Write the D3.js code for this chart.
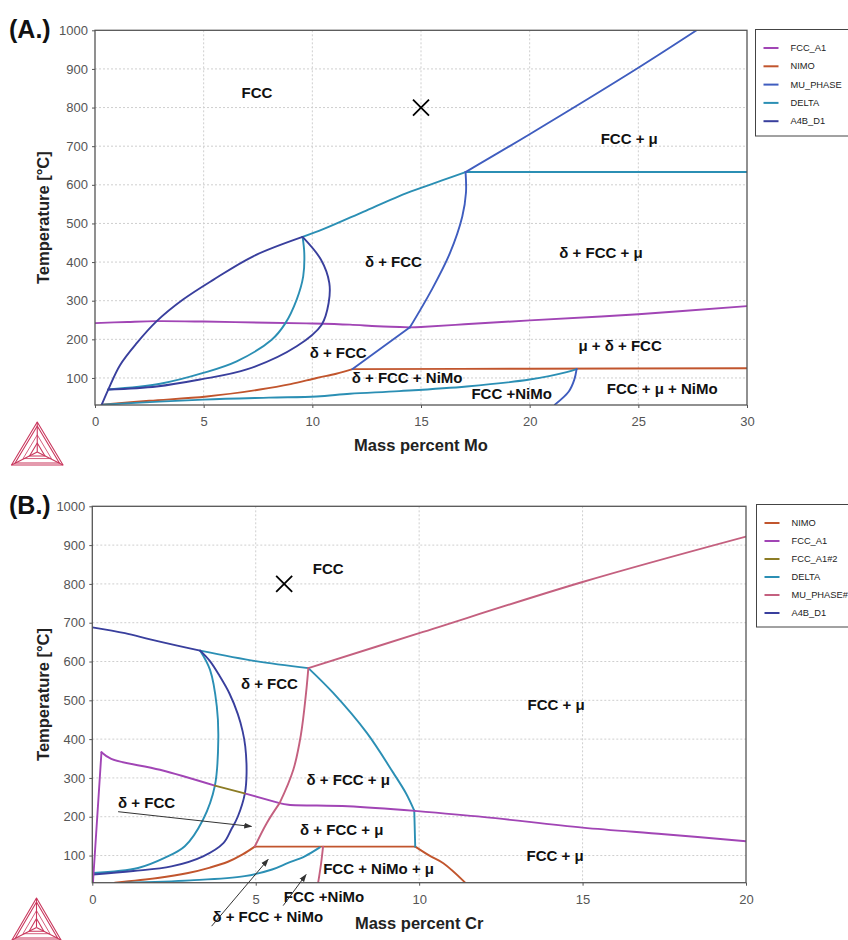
<!DOCTYPE html>
<html>
<head>
<meta charset="utf-8">
<script src="https://cdn.jsdelivr.net/npm/d3@7"></script>
<style>
  body { margin: 0; background: #fff; }
  svg { display: block; font-family: "Liberation Sans", Arial, sans-serif; }
</style>
</head>
<body>
<svg id="chart" width="848" height="940"></svg>
<script>
// ---------- shared axis values ----------
const tempTicks = [100, 200, 300, 400, 500, 600, 700, 800, 900, 1000];
const tempRange = [30, 1000];
const moTicks = [0, 5, 10, 15, 20, 25, 30];
const crTicks = [0, 5, 10, 15, 20];

// ---------- (A.) Mo section: phase boundaries as [mass % Mo, °C] ----------
const moFccA1 = [
  [[0, 242], [1.5, 245], [2.84, 247], [5, 246], [8, 243], [10, 241], [11.73, 238], [13, 234], [14.5, 231]],
  [[14.5, 231], [15, 232], [17, 239], [20, 249], [25, 265], [30, 286]]
];
const moNiMo = [
  [[0.31, 31], [2.5, 41], [5.14, 52], [7.59, 70], [9, 84], [10.2, 100], [11.1, 111], [11.85, 123]],
  [[11.85, 123], [20, 124], [30, 125]]
];
const moMuPhase = [
  [[17.05, 633], [20, 731], [25, 903], [27.68, 1000]],
  [[17.05, 633], [17.07, 580], [16.9, 518], [16.33, 423], [15.49, 328], [14.49, 231]],
  [[14.49, 231], [11.85, 123]],
  [[22.16, 123], [22.05, 95], [21.8, 65], [21.16, 31]]
];
const moDelta = [
  [[9.55, 465], [10.5, 485], [12.34, 530], [14, 571], [15, 592], [16, 612], [17.05, 633]],
  [[17.05, 633], [30, 633]],
  [[9.55, 465], [9.63, 423], [9.58, 363], [9.28, 303], [8.74, 240], [8.13, 199], [6.52, 143],
   [4.98, 113], [3, 85], [0.61, 70]],
  [[0.31, 31], [4.98, 44], [8, 49], [10.2, 52], [11.73, 59], [14, 66], [17.1, 78], [20, 96],
   [21.7, 115], [22.16, 123]]
];
const moA4bD1 = [
  [[0.31, 31], [0.61, 70], [1.15, 133], [1.92, 190], [2.84, 247], [4.05, 303], [5.44, 354],
   [7.28, 415], [9.55, 465]],
  [[9.55, 465], [10.4, 406], [10.78, 346], [10.75, 294], [10.43, 238], [9.28, 182], [6.98, 122],
   [4.83, 96], [2.84, 78], [0.61, 70]]
];
const moLegend = ["FCC_A1", "NIMO", "MU_PHASE", "DELTA", "A4B_D1"];
const moRegionText = ["FCC", "FCC + μ", "δ + FCC", "δ + FCC + μ", "δ + FCC", "μ + δ + FCC",
  "δ + FCC + NiMo", "FCC +NiMo", "FCC + μ + NiMo"];
const moRegionAt = [[7.45, 839], [24.58, 721], [13.73, 402], [23.28, 426], [11.19, 165],
  [24.16, 184], [14.36, 100], [19.17, 61], [26.1, 72]];
const moAlloy = [15, 800];

// ---------- (B.) Cr section: phase boundaries as [mass % Cr, °C] ----------
const crNiMo = [
  [[0.69, 30], [2, 42], [2.93, 55], [3.6, 69], [4.15, 84], [4.6, 103], [4.97, 123]],
  [[4.97, 123], [9.88, 123]],
  [[9.88, 123], [10.33, 99], [10.74, 80], [11.4, 31]]
];
const crFccA1 = [
  [[0.02, 30], [0.28, 366]],
  [[0.28, 366], [0.58, 349], [2.07, 321], [3.75, 280]],
  [[4.66, 260], [5.73, 235]],
  [[5.73, 235], [6, 231], [7.82, 227], [9.87, 215]],
  [[9.87, 215], [12, 199], [15, 172], [17.5, 155], [20, 137]]
];
const crFccA1b = [
  [[3.75, 280], [4.66, 260]]
];
const crDelta = [
  [[3.3, 628], [5, 601], [6.61, 583]],
  [[6.61, 583], [7.37, 519], [8.4, 416], [9.21, 313], [9.6, 260], [9.85, 216]],
  [[9.85, 216], [9.88, 123]],
  [[3.3, 628], [3.6, 579], [3.81, 484], [3.855, 400], [3.75, 280], [3.39, 193], [2.83, 124],
   [2.21, 94], [1.4, 68], [0.02, 55]],
  [[1.0, 30], [3, 36], [4.66, 47], [5.5, 64], [5.99, 81], [6.5, 98], [6.96, 121]]
];
const crMuPhase = [
  [[6.61, 583], [10, 673], [15, 805], [20, 922]],
  [[6.61, 583], [6.54, 519], [6.38, 410], [6.15, 321], [5.73, 235]],
  [[5.73, 235], [5.34, 184], [4.97, 123]],
  [[7.06, 123], [7.0, 80], [6.91, 30]]
];
const crA4bD1 = [
  [[0, 688], [1, 673], [1.77, 657], [2.6, 641], [3.3, 628]],
  [[3.3, 628], [3.6, 601], [3.9, 562], [4.2, 517], [4.45, 465], [4.6, 420], [4.68, 381],
   [4.72, 313], [4.67, 261], [4.45, 200], [4.25, 167], [4.01, 132], [3.39, 98], [2.42, 72],
   [1.25, 60], [0.02, 51]]
];
const crLegend = ["NIMO", "FCC_A1", "FCC_A1#2", "DELTA", "MU_PHASE#", "A4B_D1"];
const crRegionText = ["FCC", "δ + FCC", "δ + FCC + μ", "δ + FCC", "δ + FCC + μ",
  "FCC + NiMo + μ", "FCC + μ", "FCC + μ", "FCC +NiMo", "δ + FCC + NiMo"];
const crRegionAt = [[7.22, 840], [5.42, 544], [7.83, 295], [1.66, 236], [7.63, 167],
  [8.76, 66], [14.19, 489], [14.16, 100], [7.09, -6], [5.37, -58]];
// pointers from a label to the field it names: [from, to]
const crPointers = [
  [[0.79, 213], [4.87, 175]],
  [[3.65, -82], [5.38, 90]],
  [[5.84, -29], [6.54, 51]]
];
const crAlloy = [5.87, 800];

// ---------- styling ----------
const phaseColor = {
  "FCC_A1": "#a145b5",
  "FCC_A1#2": "#8c7c25",
  "NIMO": "#c1552d",
  "MU_PHASE": "#3f5dbf",
  "MU_PHASE#": "#c4607f",
  "DELTA": "#2b8fb4",
  "A4B_D1": "#393f9d"
};

const svg = d3.select("#chart");

svg.append("defs").append("marker")
  .attr("id", "arrowHead")
  .attr("viewBox", "0 0 10 10")
  .attr("refX", 9).attr("refY", 5)
  .attr("markerWidth", 8).attr("markerHeight", 8)
  .attr("orient", "auto")
  .append("path").attr("d", "M0,1.5 L10,5 L0,8.5 Z").attr("fill", "#333");

function drawLogo(g, left, right, top, bottom) {
  const cx = (left + right) / 2;
  const col = "#c9375d";
  const A = [cx, top], B = [left, bottom], C = [right, bottom];
  const P = [cx, bottom - (bottom - top) * 0.3];
  const lg = g.append("g").attr("fill", "none").attr("stroke", col).attr("stroke-width", 1.1)
    .attr("stroke-linejoin", "round");
  const tri = (pts) => "M" + pts.map(p => p.join(",")).join("L") + "Z";
  lg.append("path").attr("d", tri([A, B, C]));
  const shrink = (p, q, k) => [q[0] + (p[0] - q[0]) * k, q[1] + (p[1] - q[1]) * k];
  const cen = [cx, (top + 2 * bottom) / 3];
  lg.append("path").attr("d", tri([shrink(A, cen, 0.86), shrink(B, cen, 0.86), shrink(C, cen, 0.86)]));
  [A, B, C].forEach(v => lg.append("line")
    .attr("x1", v[0]).attr("y1", v[1]).attr("x2", P[0]).attr("y2", P[1]));
  lg.append("path").attr("d", tri([shrink(A, P, 0.3), shrink(B, P, 0.3), shrink(C, P, 0.3)]));
  lg.append("path").attr("d", tri([shrink(A, cen, 0.55), shrink(B, cen, 0.55), shrink(C, cen, 0.55)]))
    .attr("stroke-width", 0.8);
}

function drawPanel(p) {
  const g = svg.append("g");
  const b = p.box;
  const x = d3.scaleLinear().domain([p.xTicks[0], p.xTicks[p.xTicks.length - 1]]).range([b.left, b.right]);
  const y = d3.scaleLinear().domain(tempRange).range([b.bottom, b.top]);

  // dotted grid
  const grid = g.append("g").attr("stroke", "#cfcfcf").attr("stroke-width", 1).attr("stroke-dasharray", "2,2");
  grid.selectAll(".gx").data(p.xTicks.slice(1, -1)).join("line")
    .attr("x1", d => x(d)).attr("x2", d => x(d)).attr("y1", b.top).attr("y2", b.bottom);
  grid.selectAll(".gy").data(tempTicks.filter(t => t < tempRange[1])).join("line")
    .attr("y1", d => y(d)).attr("y2", d => y(d)).attr("x1", b.left).attr("x2", b.right);

  // phase boundaries
  const clipId = "clip" + p.tag.replace(/\W/g, "");
  svg.select("defs").append("clipPath").attr("id", clipId)
    .append("rect").attr("x", b.left).attr("y", b.top).attr("width", b.right - b.left).attr("height", b.bottom - b.top);
  const line = d3.line().x(d => x(d[0])).y(d => y(d[1])).curve(d3.curveCatmullRom.alpha(0.5));
  const curves = g.append("g").attr("clip-path", `url(#${clipId})`);
  p.curves.forEach(([name, segs]) => {
    segs.forEach(s => curves.append("path")
      .attr("d", line(s))
      .attr("fill", "none")
      .attr("stroke", phaseColor[name])
      .attr("stroke-width", 1.9)
      .attr("stroke-linejoin", "round")
      .attr("stroke-linecap", "round"));
  });

  // frame
  g.append("rect").attr("x", b.left).attr("y", b.top)
    .attr("width", b.right - b.left).attr("height", b.bottom - b.top)
    .attr("fill", "none").attr("stroke", "#555").attr("stroke-width", 1.3);

  // axes
  const ax = g.append("g").attr("transform", `translate(0,${b.bottom})`)
    .call(d3.axisBottom(x).tickValues(p.xTicks).tickSize(3).tickPadding(9).tickFormat(d3.format("d")));
  const ay = g.append("g").attr("transform", `translate(${b.left},0)`)
    .call(d3.axisLeft(y).tickValues(tempTicks).tickSize(3).tickPadding(4).tickFormat(d3.format("d")));
  [ax, ay].forEach(a => {
    a.select(".domain").remove();
    a.selectAll(".tick line").attr("stroke", "#555");
    a.selectAll(".tick text").attr("fill", "#555").attr("font-size", 13)
      .attr("font-family", "'Liberation Sans', Arial, sans-serif");
  });

  // axis titles
  g.append("text").attr("x", (b.left + b.right) / 2).attr("y", b.bottom + 40)
    .attr("text-anchor", "middle").attr("dominant-baseline", "central")
    .attr("font-size", 16.5).attr("font-weight", "bold").attr("fill", "#222").text(p.xTitle);
  g.append("text").attr("transform", `translate(42.5,${(b.top + b.bottom) / 2}) rotate(-90)`)
    .attr("text-anchor", "middle").attr("dominant-baseline", "central")
    .attr("font-size", 16.5).attr("font-weight", "bold").attr("fill", "#222").text("Temperature [°C]");

  // section tag
  g.append("text").attr("x", 9).attr("y", b.top - 1).attr("dominant-baseline", "central")
    .attr("font-size", 25).attr("font-weight", "bold").attr("fill", "#111").text(p.tag);

  // field names
  g.selectAll(".field").data(p.regionText).join("text")
    .attr("x", (d, i) => x(p.regionAt[i][0])).attr("y", (d, i) => y(p.regionAt[i][1]))
    .attr("text-anchor", "middle").attr("dominant-baseline", "central")
    .attr("font-size", 15).attr("font-weight", "bold").attr("fill", "#111").text(d => d);

  // pointers
  (p.pointers || []).forEach(([from, to]) => g.append("line")
    .attr("x1", x(from[0])).attr("y1", y(from[1])).attr("x2", x(to[0])).attr("y2", y(to[1]))
    .attr("stroke", "#333").attr("stroke-width", 1).attr("marker-end", "url(#arrowHead)"));

  // alloy composition marker
  const mx = x(p.alloy[0]), my = y(p.alloy[1]), r = 8;
  g.append("path").attr("d", `M${mx - r},${my - r}L${mx + r},${my + r}M${mx - r},${my + r}L${mx + r},${my - r}`)
    .attr("stroke", "#000").attr("stroke-width", 1.8);

  // legend
  const L = p.legendBox;
  const lg = g.append("g");
  lg.append("rect").attr("x", L.left).attr("y", L.top).attr("width", 120).attr("height", L.bottom - L.top)
    .attr("fill", "#fff").attr("stroke", "#444").attr("stroke-width", 1);
  p.legend.forEach((name, i) => {
    const yy = L.firstRow + i * L.step;
    lg.append("line").attr("x1", L.left + 8).attr("x2", L.left + 23).attr("y1", yy).attr("y2", yy)
      .attr("stroke", phaseColor[name]).attr("stroke-width", 2);
    lg.append("text").attr("x", L.left + 35).attr("y", yy).attr("dominant-baseline", "central")
      .attr("font-size", 9.3).attr("fill", "#222").text(name);
  });

  drawLogo(g, p.logo[0], p.logo[1], p.logo[2], p.logo[3]);
}

drawPanel({
  tag: "(A.)",
  xTicks: moTicks,
  xTitle: "Mass percent Mo",
  box: { left: 95, right: 747, top: 30.3, bottom: 405 },
  curves: [["FCC_A1", moFccA1], ["NIMO", moNiMo], ["DELTA", moDelta], ["MU_PHASE", moMuPhase], ["A4B_D1", moA4bD1]],
  legend: moLegend,
  legendBox: { left: 755.5, top: 29.5, bottom: 136, firstRow: 48, step: 18.3 },
  regionText: moRegionText,
  regionAt: moRegionAt,
  alloy: moAlloy,
  logo: [11.5, 63, 422, 465]
});

drawPanel({
  tag: "(B.)",
  xTicks: crTicks,
  xTitle: "Mass percent Cr",
  box: { left: 92.3, right: 746, top: 506.3, bottom: 882.7 },
  curves: [["NIMO", crNiMo], ["DELTA", crDelta], ["A4B_D1", crA4bD1], ["FCC_A1", crFccA1],
           ["FCC_A1#2", crFccA1b], ["MU_PHASE#", crMuPhase]],
  legend: crLegend,
  legendBox: { left: 756.5, top: 504.5, bottom: 627, firstRow: 523, step: 18 },
  regionText: crRegionText,
  regionAt: crRegionAt,
  pointers: crPointers,
  alloy: crAlloy,
  logo: [12, 61, 898, 940]
});
</script>
</body>
</html>
